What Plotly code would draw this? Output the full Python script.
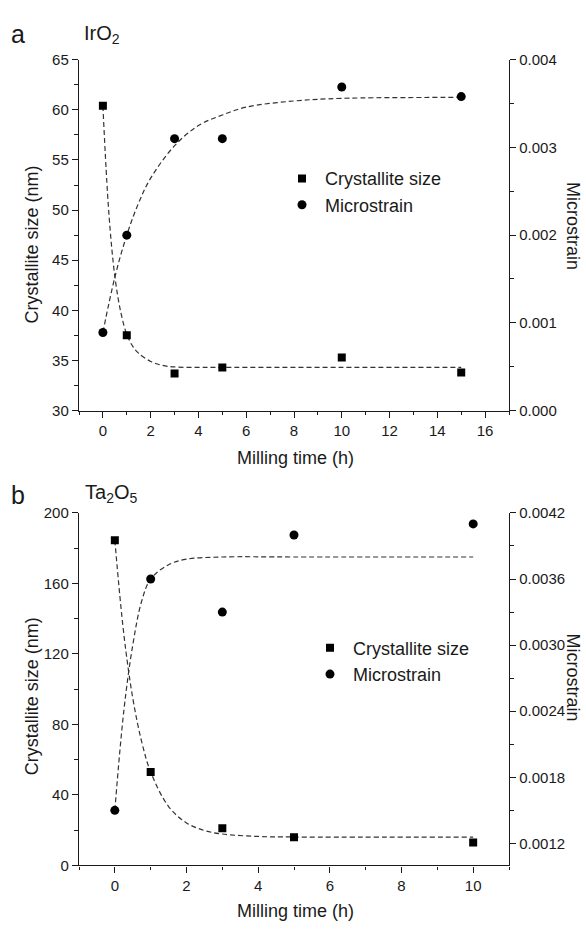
import plotly.graph_objects as go

W, H = 586, 931

# ---------------- data: panel a (IrO2) ----------------
a_time = [0, 1, 3, 5, 10, 15]
a_size = [60.4, 37.5, 33.7, 34.3, 35.3, 33.8]
a_strain = [0.00089, 0.0020, 0.0031, 0.0031, 0.00369, 0.00358]
# fitted curves
a_size_fit_x = [0, 0.25, 0.5, 0.75, 1, 1.25, 1.5, 2, 2.5, 3, 4, 5, 10, 15]
a_size_fit_y = [60.4, 49.7, 43.4, 39.8, 37.6, 36.4, 35.7, 34.9, 34.5, 34.35, 34.3, 34.3, 34.3, 34.3]
a_strain_fit_x = [0, 0.5, 1, 1.5, 2, 3, 4, 5, 6, 8, 10, 15]
a_strain_fit_y = [0.00089, 0.00152, 0.0020, 0.00237, 0.00265, 0.00302, 0.00325, 0.00337, 0.00346, 0.00353, 0.00356, 0.00357]

# ---------------- data: panel b (Ta2O5) ----------------
b_time = [0, 1, 3, 5, 10]
b_size = [184.5, 53, 21, 16, 13]
b_strain = [0.0015, 0.0036, 0.0033, 0.0040, 0.0041]
b_size_fit_x = [0, 0.25, 0.5, 0.75, 1, 1.5, 2, 2.5, 3, 4, 5, 10]
b_size_fit_y = [184.5, 131.4, 95, 70.1, 53, 33.4, 24.1, 19.8, 17.8, 16.4, 16.1, 16.0]
b_strain_fit_x = [0, 0.25, 0.5, 0.75, 1, 1.5, 2, 3, 5, 10]
b_strain_fit_y = [0.0015, 0.0024, 0.0030, 0.0034, 0.0036, 0.00373, 0.00378, 0.0038, 0.0038, 0.0038]

FONT = "Liberation Sans, Arial, sans-serif"
INK = "#1a1a1a"
DASH = dict(color="#333333", width=1.2, dash="5px,3px")

fig = go.Figure()

# panel a
fig.add_trace(go.Scatter(x=a_size_fit_x, y=a_size_fit_y, mode="lines", line=DASH, line_shape="spline",
                         showlegend=False, xaxis="x", yaxis="y"))
fig.add_trace(go.Scatter(x=a_strain_fit_x, y=a_strain_fit_y, mode="lines", line=DASH, line_shape="spline",
                         showlegend=False, xaxis="x", yaxis="y2"))
fig.add_trace(go.Scatter(x=a_time, y=a_size, mode="markers", name="Crystallite size",
                         marker=dict(symbol="square", size=8, color="black"),
                         xaxis="x", yaxis="y", legend="legend"))
fig.add_trace(go.Scatter(x=a_time, y=a_strain, mode="markers", name="Microstrain",
                         marker=dict(symbol="circle", size=9, color="black"),
                         xaxis="x", yaxis="y2", legend="legend"))

# panel b
fig.add_trace(go.Scatter(x=b_size_fit_x, y=b_size_fit_y, mode="lines", line=DASH, line_shape="spline",
                         showlegend=False, xaxis="x2", yaxis="y3"))
fig.add_trace(go.Scatter(x=b_strain_fit_x, y=b_strain_fit_y, mode="lines", line=DASH, line_shape="spline",
                         showlegend=False, xaxis="x2", yaxis="y4"))
fig.add_trace(go.Scatter(x=b_time, y=b_size, mode="markers", name="Crystallite size",
                         marker=dict(symbol="square", size=8, color="black"),
                         xaxis="x2", yaxis="y3", legend="legend2"))
fig.add_trace(go.Scatter(x=b_time, y=b_strain, mode="markers", name="Microstrain",
                         marker=dict(symbol="circle", size=9, color="black"),
                         xaxis="x2", yaxis="y4", legend="legend2"))

XD = [79 / W, 509 / W]
YD_A = [1 - 409 / H, 1 - 51.7 / H]
YD_B = [1 - 872.3 / H, 1 - 513.3 / H]


def ax(**kw):
    base = dict(showline=True, linecolor=INK, linewidth=1.4, ticks="outside", ticklen=6,
                tickwidth=1.4, tickcolor=INK, showgrid=False, zeroline=False,
                tickfont=dict(family=FONT, size=15, color=INK), fixedrange=True)
    base.update(kw)
    return base


fig.update_layout(
    width=W, height=H, margin=dict(l=0, r=0, t=0, b=0),
    paper_bgcolor="white", plot_bgcolor="white",
    font=dict(family=FONT, color=INK),
    xaxis=ax(domain=XD, anchor="y", range=[-1, 17], dtick=2, tick0=0,
             minor=dict(ticks="outside", ticklen=3.5, dtick=1, tick0=0, tickcolor=INK, tickwidth=1.2)),
    yaxis=ax(domain=YD_A, anchor="x", range=[30, 65], dtick=5, tick0=30,
             minor=dict(ticks="outside", ticklen=3.5, dtick=2.5, tick0=30, tickcolor=INK, tickwidth=1.2)),
    yaxis2=ax(domain=YD_A, anchor="x", overlaying="y", side="right", range=[0, 0.004],
              dtick=0.001, tick0=0, tickformat=".3f",
              minor=dict(ticks="outside", ticklen=3.5, dtick=0.0005, tick0=0, tickcolor=INK, tickwidth=1.2)),
    xaxis2=ax(domain=XD, anchor="y3", range=[-1, 11], dtick=2, tick0=0,
              minor=dict(ticks="outside", ticklen=3.5, dtick=1, tick0=0, tickcolor=INK, tickwidth=1.2)),
    yaxis3=ax(domain=YD_B, anchor="x2", range=[0, 200], dtick=40, tick0=0,
              minor=dict(ticks="outside", ticklen=3.5, dtick=20, tick0=0, tickcolor=INK, tickwidth=1.2)),
    yaxis4=ax(domain=YD_B, anchor="x2", overlaying="y3", side="right", range=[0.001, 0.0042],
              dtick=0.0006, tick0=0.0012, tickformat=".4f",
              minor=dict(ticks="outside", ticklen=3.5, dtick=0.0003, tick0=0.0012, tickcolor=INK, tickwidth=1.2)),
    legend=dict(x=279 / W, y=1 - 154 / H, xanchor="left", yanchor="top",
                bgcolor="rgba(0,0,0,0)", font=dict(family=FONT, size=18, color=INK),
                tracegroupgap=0, itemsizing="trace", itemwidth=36),
    legend2=dict(x=307 / W, y=1 - 632 / H, xanchor="left", yanchor="top",
                 bgcolor="rgba(0,0,0,0)", font=dict(family=FONT, size=18, color=INK),
                 tracegroupgap=0, itemsizing="trace", itemwidth=36),
)

anns = [
    dict(text="a", x=18 / W, y=1 - 25 / H, font=dict(size=25)),
    dict(text="IrO<sub>2</sub>", x=102 / W, y=1 - 26 / H, font=dict(size=20)),
    dict(text="b", x=18 / W, y=1 - 495 / H, font=dict(size=25)),
    dict(text="Ta<sub>2</sub>O<sub>5</sub>", x=111 / W, y=1 - 494 / H, font=dict(size=20)),
    dict(text="Crystallite size (nm)", x=32 / W, y=1 - 240 / H, textangle=-90, font=dict(size=18)),
    dict(text="Microstrain", x=573 / W, y=1 - 221 / H, textangle=90, font=dict(size=18)),
    dict(text="Milling time (h)", x=295 / W, y=1 - 457 / H, font=dict(size=18)),
    dict(text="Crystallite size (nm)", x=32 / W, y=1 - 700 / H, textangle=-90, font=dict(size=18)),
    dict(text="Microstrain", x=573 / W, y=1 - 681 / H, textangle=90, font=dict(size=18)),
    dict(text="Milling time (h)", x=295 / W, y=1 - 919 / H, font=dict(size=18)),
]
for a in anns:
    a.update(xref="paper", yref="paper", showarrow=False, xanchor="center", yanchor="middle")
    a["font"].update(family=FONT, color=INK)
fig.update_layout(annotations=anns)

fig.write_html("out.html")
